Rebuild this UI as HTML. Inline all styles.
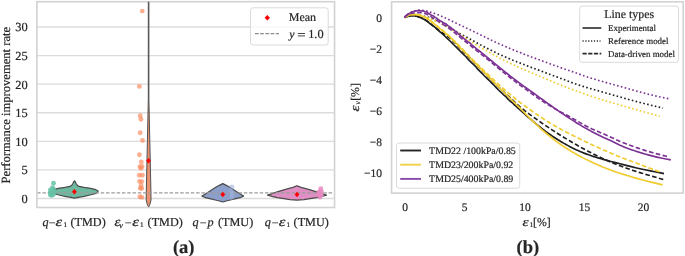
<!DOCTYPE html>
<html><head><meta charset="utf-8"><style>
html,body{margin:0;padding:0;background:#fff;}
svg{display:block;will-change:transform;}
text{font-family:"Liberation Serif",serif;fill:#262626;text-rendering:geometricPrecision;stroke:#262626;stroke-width:0.2px;}
</style></head><body>
<svg width="685" height="256" viewBox="0 0 685 256">
<defs><clipPath id="ca"><rect x="36.5" y="1.5" width="298.3" height="205.7"/></clipPath><clipPath id="cb"><rect x="391.5" y="1.5" width="292.2" height="191"/></clipPath></defs>
<rect width="685" height="256" fill="#fff"/>
<!-- ===== LEFT CHART ===== -->
<line x1="36.5" x2="334.8" y1="198.50" y2="198.50" stroke="#dcdcdc" stroke-width="1.3"/><line x1="36.5" x2="334.8" y1="169.91" y2="169.91" stroke="#dcdcdc" stroke-width="1.3"/><line x1="36.5" x2="334.8" y1="141.33" y2="141.33" stroke="#dcdcdc" stroke-width="1.3"/><line x1="36.5" x2="334.8" y1="112.75" y2="112.75" stroke="#dcdcdc" stroke-width="1.3"/><line x1="36.5" x2="334.8" y1="84.16" y2="84.16" stroke="#dcdcdc" stroke-width="1.3"/><line x1="36.5" x2="334.8" y1="55.58" y2="55.58" stroke="#dcdcdc" stroke-width="1.3"/><line x1="36.5" x2="334.8" y1="26.99" y2="26.99" stroke="#dcdcdc" stroke-width="1.3"/>
<rect x="36.9" y="1.7" width="297.65" height="205.8" fill="none" stroke="#d2d2d2" stroke-width="1.6"/>
<g font-size="12.4"><text x="27.7" y="202.90" text-anchor="end">0</text><text x="27.7" y="174.31" text-anchor="end">5</text><text x="27.7" y="145.73" text-anchor="end">10</text><text x="27.7" y="117.15" text-anchor="end">15</text><text x="27.7" y="88.56" text-anchor="end">20</text><text x="27.7" y="59.98" text-anchor="end">25</text><text x="27.7" y="31.39" text-anchor="end">30</text></g>
<text transform="translate(10.2,183.4) rotate(-90)" font-size="12.58">Performance improvement rate</text>
<g stroke="#4a4a4a" stroke-width="1.2" stroke-linejoin="round" clip-path="url(#ca)">
<path d="M74.50,180.80 L73.60,181.80 L73.10,183.20 L72.00,185.00 L70.10,186.40 L64.90,187.40 L58.40,188.30 L53.20,189.70 L50.90,191.10 L51.50,192.30 L53.20,193.50 L59.00,195.00 L64.90,196.30 L69.50,197.10 L72.00,197.70 L74.50,198.20 L74.50,198.20 L77.00,197.70 L79.50,197.10 L84.10,196.30 L90.00,195.00 L95.80,193.50 L97.50,192.30 L98.10,191.10 L95.80,189.70 L90.60,188.30 L84.10,187.40 L78.90,186.40 L77.00,185.00 L75.90,183.20 L75.40,181.80 L74.50,180.80Z" fill="#6db99f"/>
<path d="M148.30,1.80 L148.30,10.00 L148.30,20.00 L148.30,30.00 L148.30,40.00 L148.30,50.00 L148.30,60.00 L148.30,70.00 L148.30,80.00 L148.30,90.00 L148.30,100.00 L148.08,110.00 L147.86,120.00 L147.64,130.00 L147.42,140.00 L147.20,150.00 L146.98,160.00 L146.76,170.00 L146.54,180.00 L146.32,190.00 L146.20,200.00 L146.90,203.00 L147.70,205.50 L148.60,207.00 L148.60,207.00 L149.50,205.50 L150.30,203.00 L151.00,200.00 L150.88,190.00 L150.66,180.00 L150.44,170.00 L150.22,160.00 L150.00,150.00 L149.78,140.00 L149.56,130.00 L149.34,120.00 L149.12,110.00 L148.90,100.00 L148.90,90.00 L148.90,80.00 L148.90,70.00 L148.90,60.00 L148.90,50.00 L148.90,40.00 L148.90,30.00 L148.90,20.00 L148.90,10.00 L148.90,1.80Z" fill="#eb9270" stroke="#525252" stroke-width="1.0"/>
<path d="M222.80,183.60 L220.80,184.60 L217.50,186.30 L213.80,188.50 L209.70,191.20 L205.80,193.70 L202.00,196.10 L204.60,197.30 L209.70,198.60 L215.30,200.00 L219.40,201.00 L222.80,202.00 L222.80,202.00 L226.20,201.00 L230.30,200.00 L235.90,198.60 L241.00,197.30 L243.60,196.10 L239.80,193.70 L235.90,191.20 L231.80,188.50 L228.10,186.30 L224.80,184.60 L222.80,183.60Z" fill="#8c9fcb"/>
<path d="M297.00,185.70 L294.80,186.60 L292.00,187.70 L285.50,189.40 L277.30,191.80 L272.00,193.60 L267.50,195.10 L272.00,196.40 L277.30,197.60 L284.00,198.70 L290.00,199.60 L297.00,200.20 L297.00,200.20 L304.00,199.60 L310.00,198.70 L316.70,197.60 L322.00,196.40 L326.50,195.10 L322.00,193.60 L316.70,191.80 L308.50,189.40 L302.00,187.70 L299.20,186.60 L297.00,185.70Z" fill="#e08fc4"/>
</g>
<line x1="37.7" x2="333.8" y1="192.9" y2="192.9" stroke="#9c9c9c" stroke-width="1.4" stroke-dasharray="3.5 1.8" stroke-dashoffset="0.6"/>
<circle cx="53.5" cy="183.3" r="2.45" fill="#66c2a5" fill-opacity="0.85"/><circle cx="50.4" cy="190.0" r="2.45" fill="#66c2a5" fill-opacity="0.85"/><circle cx="53.5" cy="189.3" r="2.45" fill="#66c2a5" fill-opacity="0.85"/><circle cx="50.3" cy="192.6" r="2.45" fill="#66c2a5" fill-opacity="0.85"/><circle cx="53.5" cy="192.0" r="2.45" fill="#66c2a5" fill-opacity="0.85"/><circle cx="50.4" cy="195.0" r="2.45" fill="#66c2a5" fill-opacity="0.85"/><circle cx="53.4" cy="194.6" r="2.45" fill="#66c2a5" fill-opacity="0.85"/><circle cx="51.9" cy="195.3" r="2.45" fill="#66c2a5" fill-opacity="0.85"/><circle cx="51.9" cy="191.2" r="2.45" fill="#66c2a5" fill-opacity="0.85"/><circle cx="52.5" cy="187.6" r="2.45" fill="#66c2a5" fill-opacity="0.85"/><circle cx="142.3" cy="11.1" r="2.45" fill="#fc8d62" fill-opacity="0.7"/><circle cx="139.4" cy="86.4" r="2.45" fill="#fc8d62" fill-opacity="0.7"/><circle cx="140.2" cy="115.8" r="2.45" fill="#fc8d62" fill-opacity="0.7"/><circle cx="140.9" cy="119.3" r="2.45" fill="#fc8d62" fill-opacity="0.7"/><circle cx="140.2" cy="132.7" r="2.45" fill="#fc8d62" fill-opacity="0.7"/><circle cx="142.5" cy="140.5" r="2.45" fill="#fc8d62" fill-opacity="0.7"/><circle cx="139.4" cy="154.7" r="2.45" fill="#fc8d62" fill-opacity="0.7"/><circle cx="141.3" cy="161.9" r="2.45" fill="#fc8d62" fill-opacity="0.7"/><circle cx="139.9" cy="166.7" r="2.45" fill="#fc8d62" fill-opacity="0.7"/><circle cx="142.1" cy="166.5" r="2.45" fill="#fc8d62" fill-opacity="0.7"/><circle cx="141.0" cy="168.4" r="2.45" fill="#fc8d62" fill-opacity="0.7"/><circle cx="139.3" cy="175.3" r="2.45" fill="#fc8d62" fill-opacity="0.7"/><circle cx="142.3" cy="175.3" r="2.45" fill="#fc8d62" fill-opacity="0.7"/><circle cx="139.6" cy="181.4" r="2.45" fill="#fc8d62" fill-opacity="0.7"/><circle cx="141.8" cy="181.6" r="2.45" fill="#fc8d62" fill-opacity="0.7"/><circle cx="141.1" cy="185.4" r="2.45" fill="#fc8d62" fill-opacity="0.7"/><circle cx="140.3" cy="188.3" r="2.45" fill="#fc8d62" fill-opacity="0.7"/><circle cx="141.7" cy="188.4" r="2.45" fill="#fc8d62" fill-opacity="0.7"/><circle cx="139.9" cy="196.8" r="2.45" fill="#fc8d62" fill-opacity="0.7"/><circle cx="141.9" cy="197.4" r="2.45" fill="#fc8d62" fill-opacity="0.7"/><circle cx="231.9" cy="186.9" r="2.45" fill="#9fb0da" fill-opacity="0.6"/><circle cx="231.4" cy="191.5" r="2.45" fill="#9fb0da" fill-opacity="0.6"/><circle cx="232.2" cy="194.5" r="2.45" fill="#9fb0da" fill-opacity="0.6"/><circle cx="231.6" cy="197.5" r="2.45" fill="#9fb0da" fill-opacity="0.6"/><circle cx="320.8" cy="188.8" r="2.45" fill="#e78ac3" fill-opacity="0.85"/><circle cx="318.9" cy="191.9" r="2.45" fill="#e78ac3" fill-opacity="0.85"/><circle cx="321.3" cy="191.5" r="2.45" fill="#e78ac3" fill-opacity="0.85"/><circle cx="318.8" cy="194.6" r="2.45" fill="#e78ac3" fill-opacity="0.85"/><circle cx="321.2" cy="195.2" r="2.45" fill="#e78ac3" fill-opacity="0.85"/><circle cx="319.9" cy="197.1" r="2.45" fill="#e78ac3" fill-opacity="0.85"/><circle cx="320.2" cy="193.3" r="2.45" fill="#e78ac3" fill-opacity="0.85"/>
<path d="M74.4,188.95 L76.80000000000001,191.7 L74.4,194.45 L72.0,191.7Z" fill="#ff0000"/><path d="M148.5,158.05 L150.9,160.8 L148.5,163.55 L146.1,160.8Z" fill="#ff0000"/><path d="M222.8,191.65 L225.20000000000002,194.4 L222.8,197.15 L220.4,194.4Z" fill="#ff0000"/><path d="M297.0,191.75 L299.4,194.5 L297.0,197.25 L294.6,194.5Z" fill="#ff0000"/>
<!-- legend -->
<rect x="250.5" y="7.8" width="77.7" height="37.2" rx="2.5" fill="#fff" fill-opacity="0.8" stroke="#d6d6d6" stroke-width="0.9"/>
<path d="M267.3,15.05 L270.0,17.8 L267.3,20.55 L264.6,17.8Z" fill="#ff0000"/>
<line x1="255" x2="279" y1="33.6" y2="33.6" stroke="#8c8c8c" stroke-width="1.3" stroke-dasharray="3.7 1.5"/>
<g font-size="12"><text x="288.8" y="21.2">Mean</text>
<text x="289.2" y="37.8" font-style="italic">y</text><line x1="297.9" x2="305.0" y1="33.5" y2="33.5" stroke="#262626" stroke-width="0.85"/><line x1="297.9" x2="305.0" y1="35.9" y2="35.9" stroke="#262626" stroke-width="0.85"/><text x="308.2" y="37.8" font-size="12.3">1.0</text></g>
<g font-size="12.2">
<text transform="translate(55.6,226.3) scale(1.38,1.08)" font-size="12.2" font-style="italic">ε</text><text x="42.4" y="226.3" font-style="italic">q</text><text x="48.7" y="226.8">−</text><text x="63.6" y="227.1" font-size="7.2">1</text><text x="70.5" y="226.3">(TMD)</text>
<text transform="translate(114.4,226.3) scale(1.2,1.08)" font-size="12.2" font-style="italic">ε</text><text x="119.3" y="227.9" font-size="8.4" font-style="italic">v</text><text x="124.8" y="226.8">−</text><text transform="translate(132.3,226.3) scale(1.38,1.08)" font-size="12.2" font-style="italic">ε</text><text x="140.1" y="227.1" font-size="7.2">1</text><text x="147.6" y="226.3">(TMD)</text>
<text x="192.5" y="226.3" font-style="italic">q</text><text x="199.7" y="226.8">−</text><text x="207.6" y="226.3" font-style="italic">p</text><text x="218.0" y="226.3">(TMU)</text>
<text transform="translate(278.7,226.3) scale(1.38,1.08)" font-size="12.2" font-style="italic">ε</text><text x="264.7" y="226.3" font-style="italic">q</text><text x="271.7" y="226.8">−</text><text x="286.5" y="227.1" font-size="7.2">1</text><text x="293.6" y="226.3">(TMU)</text>
</g>
<text x="172.9" y="252.6" font-size="18.5" font-weight="bold" fill="#111">(a)</text>
<!-- ===== RIGHT CHART ===== -->
<rect x="391.6" y="1.8" width="291.6" height="191.3" fill="none" stroke="#d2d2d2" stroke-width="1.6"/>
<g font-size="11.5" text-anchor="end">
<text x="382" y="21.9">0</text>
<text x="382" y="53.0">−2</text>
<text x="382" y="84.1">−4</text>
<text x="382" y="115.2">−6</text>
<text x="382" y="146.3">−8</text>
<text x="382" y="177.4">−10</text>
</g>
<g font-size="11.5" text-anchor="middle">
<text x="405" y="211">0</text>
<text x="464.7" y="211">5</text>
<text x="524.9" y="211">10</text>
<text x="584.4" y="211">15</text>
<text x="643.5" y="211">20</text>
</g>
<text transform="translate(522.4,225.9) scale(1.3,1.08)" font-size="11.8" font-style="italic">ε</text><text x="529.8" y="227.2" font-size="7.2">1</text><text x="533.1" y="225.9" font-size="11.8">[%]</text>
<g transform="translate(358.7,111.4) rotate(-90)"><text transform="translate(0,0) scale(1.3,1.08)" font-size="11.8" font-style="italic">ε</text><text x="6.8" y="1.2" font-size="7.4" font-style="italic">v</text><text x="10.6" y="0" font-size="11.8">[%]</text></g>
<text x="516.5" y="252.6" font-size="18.5" font-weight="bold" fill="#111">(b)</text>
<g stroke-linecap="butt" clip-path="url(#cb)">
<path d="M404.80,17.50 L405.22,17.34 L405.81,17.11 L406.51,16.85 L407.26,16.60 L408.00,16.40 L408.75,16.25 L409.54,16.11 L410.36,15.93 L411.19,15.86 L412.00,15.63 L412.80,15.91 L413.60,15.71 L414.40,15.78 L415.20,16.06 L416.00,16.10 L416.77,16.30 L417.50,16.61 L418.26,16.84 L419.07,17.10 L420.00,17.45 L421.07,17.84 L422.26,18.42 L423.50,19.12 L424.77,19.56 L426.00,20.60 L427.17,21.19 L428.30,22.23 L429.46,23.08 L430.67,23.99 L432.00,25.19 L433.44,26.16 L434.96,27.23 L436.56,28.84 L438.24,30.31 L440.00,31.78 L441.87,33.49 L443.86,35.24 L445.90,37.20 L447.97,39.15 L450.00,40.99 L452.00,42.93 L454.00,44.98 L456.00,46.87 L458.00,48.87 L460.00,50.91 L462.00,52.86 L464.00,54.91 L466.00,56.74 L468.00,59.13 L470.00,61.19 L472.00,63.20 L474.00,64.84 L476.00,67.04 L478.00,69.43 L480.00,71.32 L482.00,73.30 L484.00,75.48 L486.00,77.47 L488.00,79.35 L490.00,81.14 L492.00,83.33 L494.00,85.21 L496.00,87.34 L498.00,89.50 L500.00,91.36 L502.00,93.24 L504.00,95.18 L506.00,96.76 L508.00,99.10 L510.00,101.00 L512.00,102.46 L514.00,104.50 L516.00,106.15 L518.00,108.11 L520.00,109.86 L522.00,111.67 L524.00,113.50 L526.00,115.27 L528.00,117.06 L530.00,118.70 L532.00,120.48 L534.00,122.07 L536.00,123.79 L538.00,125.38 L540.00,126.99 L542.00,128.56 L544.00,130.10 L546.00,131.61 L548.00,133.08 L550.00,134.50 L552.00,135.88 L554.00,137.21 L556.00,138.51 L558.00,139.77 L560.00,141.00 L562.00,142.21 L564.00,143.38 L566.00,144.52 L568.00,145.63 L570.00,146.70 L572.00,147.73 L574.00,148.73 L576.00,149.70 L578.00,150.62 L580.00,151.50 L582.00,152.33 L584.00,153.12 L586.00,153.87 L588.00,154.59 L590.00,155.30 L592.00,155.99 L594.00,156.65 L596.00,157.28 L598.00,157.90 L600.00,158.50 L602.00,159.07 L604.00,159.62 L606.00,160.15 L608.00,160.67 L610.00,161.20 L611.84,161.69 L613.52,162.14 L615.28,162.60 L617.36,163.13 L620.00,163.80 L623.30,164.63 L627.09,165.59 L631.23,166.63 L635.58,167.68 L640.00,168.70 L644.93,169.76 L650.46,170.90 L655.94,171.99 L660.67,172.93 L664.00,173.60" fill="none" stroke="#1f1f1f" stroke-width="1.65" stroke-linejoin="round"/>
<path d="M404.80,17.50 L405.22,17.22 L405.81,16.82 L406.51,16.37 L407.26,15.94 L408.00,15.60 L408.72,15.35 L409.45,15.14 L410.22,14.98 L411.06,14.87 L412.00,14.80 L413.07,14.79 L414.26,14.84 L415.50,14.93 L416.77,15.06 L418.00,15.20 L419.20,15.37 L420.40,15.57 L421.60,15.79 L422.80,16.04 L424.00,16.30 L425.14,16.54 L426.21,16.76 L427.31,17.01 L428.54,17.37 L430.00,17.90 L431.74,18.63 L433.71,19.52 L435.81,20.52 L437.94,21.57 L440.00,22.60 L442.00,23.63 L444.00,24.70 L446.00,25.79 L448.00,26.90 L450.00,28.00 L452.00,29.11 L454.00,30.24 L456.00,31.36 L458.00,32.49 L460.00,33.60 L462.00,34.69 L464.00,35.76 L466.00,36.84 L468.00,37.91 L470.00,39.00 L472.00,40.11 L474.00,41.24 L476.00,42.38 L478.00,43.50 L480.00,44.60 L482.00,45.67 L484.00,46.73 L486.00,47.77 L488.00,48.79 L490.00,49.80 L492.00,50.79 L494.00,51.77 L496.00,52.73 L498.00,53.67 L500.00,54.60 L502.00,55.51 L504.00,56.41 L506.00,57.29 L508.00,58.15 L510.00,59.00 L512.00,59.83 L514.00,60.63 L516.00,61.43 L518.00,62.21 L520.00,63.00 L522.00,63.79 L524.00,64.58 L526.00,65.36 L528.00,66.13 L530.00,66.90 L532.00,67.65 L534.00,68.39 L536.00,69.12 L538.00,69.86 L540.00,70.60 L542.00,71.36 L544.00,72.12 L546.00,72.88 L548.00,73.64 L550.00,74.40 L551.84,75.09 L553.52,75.71 L555.28,76.37 L557.36,77.13 L560.00,78.10 L563.36,79.35 L567.28,80.83 L571.52,82.41 L575.84,83.97 L580.00,85.40 L584.00,86.67 L588.00,87.87 L592.00,89.02 L596.00,90.16 L600.00,91.30 L604.00,92.46 L608.00,93.60 L612.00,94.74 L616.00,95.88 L620.00,97.00 L623.95,98.11 L627.86,99.21 L631.78,100.30 L635.81,101.40 L640.00,102.50 L644.78,103.70 L650.09,105.00 L655.31,106.26 L659.82,107.34 L663.00,108.10" fill="none" stroke="#1f1f1f" stroke-dasharray="1.6 2.35" stroke-width="1.65" stroke-linejoin="round"/>
<path d="M404.80,17.50 L405.22,17.28 L405.81,16.96 L406.51,16.61 L407.26,16.27 L408.00,16.00 L408.75,15.81 L409.54,15.65 L410.36,15.52 L411.19,15.44 L412.00,15.40 L412.80,15.40 L413.60,15.45 L414.40,15.53 L415.20,15.65 L416.00,15.80 L416.77,15.96 L417.50,16.12 L418.26,16.33 L419.07,16.61 L420.00,17.00 L421.07,17.50 L422.26,18.10 L423.50,18.78 L424.77,19.52 L426.00,20.30 L427.17,21.13 L428.30,22.02 L429.46,22.96 L430.67,23.95 L432.00,25.00 L433.44,26.10 L434.96,27.25 L436.56,28.45 L438.24,29.70 L440.00,31.00 L441.87,32.32 L443.86,33.67 L445.90,35.08 L447.97,36.57 L450.00,38.20 L452.00,39.99 L454.00,41.91 L456.00,43.93 L458.00,45.97 L460.00,48.00 L462.00,50.01 L464.00,52.05 L466.00,54.10 L468.00,56.15 L470.00,58.20 L472.00,60.24 L474.00,62.28 L476.00,64.32 L478.00,66.36 L480.00,68.40 L482.00,70.45 L484.00,72.50 L486.00,74.55 L488.00,76.59 L490.00,78.60 L492.00,80.60 L494.00,82.58 L496.00,84.55 L498.00,86.49 L500.00,88.40 L502.00,90.26 L504.00,92.08 L506.00,93.88 L508.00,95.68 L510.00,97.50 L512.00,99.37 L514.00,101.28 L516.00,103.18 L518.00,105.03 L520.00,106.80 L522.00,108.47 L524.00,110.06 L526.00,111.60 L528.00,113.11 L530.00,114.60 L532.00,116.07 L534.00,117.50 L536.00,118.92 L538.00,120.31 L540.00,121.70 L542.00,123.08 L544.00,124.46 L546.00,125.82 L548.00,127.16 L550.00,128.50 L552.00,129.83 L554.00,131.15 L556.00,132.45 L558.00,133.74 L560.00,135.00 L562.00,136.24 L564.00,137.45 L566.00,138.64 L568.00,139.82 L570.00,141.00 L572.00,142.18 L574.00,143.35 L576.00,144.52 L578.00,145.67 L580.00,146.80 L582.00,147.91 L584.00,149.01 L586.00,150.09 L588.00,151.15 L590.00,152.20 L592.00,153.23 L594.00,154.25 L596.00,155.25 L598.00,156.23 L600.00,157.20 L602.00,158.16 L604.00,159.10 L606.00,160.02 L608.00,160.92 L610.00,161.80 L612.00,162.64 L614.00,163.46 L616.00,164.26 L618.00,165.04 L620.00,165.80 L622.00,166.55 L624.00,167.29 L626.00,168.01 L628.00,168.71 L630.00,169.40 L632.00,170.07 L634.00,170.72 L636.00,171.35 L638.00,171.98 L640.00,172.60 L641.95,173.20 L643.84,173.77 L645.76,174.34 L647.78,174.94 L650.00,175.60 L652.68,176.40 L655.76,177.32 L658.84,178.24 L661.52,179.04 L663.40,179.60" fill="none" stroke="#1f1f1f" stroke-width="1.65" stroke-dasharray="4.6 2.4" stroke-linejoin="round"/>
<path d="M404.80,17.50 L405.21,17.23 L405.76,16.83 L406.44,16.39 L407.19,15.95 L408.00,15.60 L408.88,15.32 L409.87,15.06 L410.91,14.76 L411.97,14.64 L413.00,14.41 L413.98,14.58 L414.95,14.59 L415.93,14.64 L416.94,14.75 L418.00,15.05 L419.14,15.03 L420.33,15.68 L421.55,16.08 L422.78,16.40 L424.00,16.98 L425.14,17.48 L426.21,17.73 L427.31,18.82 L428.54,19.63 L430.00,20.57 L431.74,22.00 L433.71,23.57 L435.81,25.26 L437.94,26.95 L440.00,28.79 L442.00,30.45 L444.00,31.84 L446.00,33.78 L448.00,35.46 L450.00,37.12 L452.00,39.29 L454.00,41.30 L456.00,43.06 L458.00,45.50 L460.00,47.56 L462.00,49.60 L464.00,51.54 L466.00,53.78 L468.00,55.76 L470.00,57.99 L472.00,59.88 L474.00,62.11 L476.00,63.77 L478.00,66.32 L480.00,68.18 L482.00,70.03 L484.00,72.42 L486.00,73.98 L488.00,76.38 L490.00,78.22 L492.00,80.32 L494.00,82.38 L496.00,84.36 L498.00,86.41 L500.00,88.26 L502.00,90.31 L504.00,92.08 L506.00,94.33 L508.00,96.22 L510.00,98.28 L512.00,100.26 L514.00,102.14 L516.00,104.24 L518.00,106.15 L520.00,108.17 L522.00,110.25 L524.00,112.27 L526.00,114.44 L528.00,116.42 L530.00,118.47 L532.00,120.46 L534.00,122.34 L536.00,124.25 L538.00,125.93 L540.00,127.98 L542.00,129.76 L544.00,131.48 L546.00,133.15 L548.00,134.79 L550.00,136.40 L552.00,137.99 L554.00,139.55 L556.00,141.08 L558.00,142.56 L560.00,144.00 L562.00,145.38 L564.00,146.71 L566.00,148.00 L568.00,149.26 L570.00,150.50 L572.00,151.72 L574.00,152.91 L576.00,154.07 L578.00,155.20 L580.00,156.30 L582.00,157.36 L584.00,158.38 L586.00,159.37 L588.00,160.34 L590.00,161.30 L592.00,162.24 L594.00,163.16 L596.00,164.06 L598.00,164.94 L600.00,165.80 L602.00,166.64 L604.00,167.46 L606.00,168.26 L608.00,169.04 L610.00,169.80 L611.84,170.49 L613.52,171.12 L615.28,171.74 L617.36,172.45 L620.00,173.30 L623.32,174.35 L627.16,175.54 L631.33,176.81 L635.67,178.09 L640.00,179.30 L644.72,180.54 L649.94,181.84 L655.06,183.08 L659.48,184.14 L662.60,184.90" fill="none" stroke="#f0cc2e" stroke-width="1.65" stroke-linejoin="round"/>
<path d="M404.80,17.50 L405.21,17.16 L405.76,16.68 L406.44,16.13 L407.19,15.61 L408.00,15.20 L408.85,14.90 L409.77,14.65 L410.77,14.46 L411.84,14.34 L413.00,14.30 L414.22,14.34 L415.51,14.45 L416.89,14.64 L418.38,14.92 L420.00,15.30 L421.83,15.81 L423.86,16.44 L425.96,17.14 L428.05,17.88 L430.00,18.60 L431.77,19.29 L433.44,19.96 L435.06,20.67 L436.73,21.44 L438.50,22.30 L440.38,23.26 L442.32,24.31 L444.32,25.42 L446.38,26.59 L448.50,27.80 L450.73,29.08 L453.06,30.45 L455.44,31.85 L457.77,33.24 L460.00,34.60 L462.10,35.91 L464.11,37.20 L466.07,38.48 L468.02,39.75 L470.00,41.00 L472.00,42.25 L474.00,43.49 L476.00,44.71 L478.00,45.92 L480.00,47.10 L482.00,48.25 L484.00,49.38 L486.00,50.49 L488.00,51.59 L490.00,52.70 L492.00,53.81 L494.00,54.93 L496.00,56.04 L498.00,57.13 L500.00,58.20 L502.00,59.24 L504.00,60.26 L506.00,61.25 L508.00,62.23 L510.00,63.20 L512.00,64.15 L514.00,65.08 L516.00,65.99 L518.00,66.90 L520.00,67.80 L522.00,68.70 L524.00,69.58 L526.00,70.46 L528.00,71.34 L530.00,72.20 L532.00,73.05 L534.00,73.89 L536.00,74.73 L538.00,75.56 L540.00,76.40 L542.00,77.24 L544.00,78.08 L546.00,78.92 L548.00,79.76 L550.00,80.60 L551.84,81.39 L553.52,82.12 L555.28,82.88 L557.36,83.75 L560.00,84.80 L563.36,86.10 L567.28,87.60 L571.52,89.19 L575.84,90.79 L580.00,92.30 L584.00,93.72 L588.00,95.11 L592.00,96.48 L596.00,97.81 L600.00,99.10 L604.00,100.34 L608.00,101.53 L612.00,102.70 L616.00,103.85 L620.00,105.00 L624.00,106.15 L628.01,107.30 L632.01,108.44 L636.01,109.57 L640.00,110.70 L644.29,111.92 L648.88,113.22 L653.32,114.47 L657.11,115.54 L659.80,116.30" fill="none" stroke="#f0cc2e" stroke-dasharray="1.6 2.35" stroke-width="1.65" stroke-linejoin="round"/>
<path d="M404.80,17.50 L405.21,17.20 L405.76,16.76 L406.44,16.26 L407.19,15.78 L408.00,15.40 L408.88,15.11 L409.87,14.85 L410.91,14.64 L411.97,14.49 L413.00,14.40 L413.98,14.38 L414.95,14.42 L415.93,14.53 L416.94,14.69 L418.00,14.90 L419.14,15.16 L420.33,15.48 L421.55,15.86 L422.78,16.30 L424.00,16.80 L425.14,17.33 L426.21,17.87 L427.31,18.51 L428.54,19.29 L430.00,20.30 L431.74,21.59 L433.71,23.12 L435.81,24.79 L437.94,26.52 L440.00,28.20 L442.00,29.82 L444.00,31.45 L446.00,33.10 L448.00,34.81 L450.00,36.60 L452.00,38.49 L454.00,40.48 L456.00,42.51 L458.00,44.56 L460.00,46.60 L462.00,48.63 L464.00,50.68 L466.00,52.72 L468.00,54.77 L470.00,56.80 L472.00,58.82 L474.00,60.84 L476.00,62.85 L478.00,64.84 L480.00,66.80 L482.00,68.72 L484.00,70.60 L486.00,72.47 L488.00,74.33 L490.00,76.20 L492.00,78.09 L494.00,80.00 L496.00,81.90 L498.00,83.77 L500.00,85.60 L502.00,87.38 L504.00,89.12 L506.00,90.83 L508.00,92.52 L510.00,94.20 L512.00,95.86 L514.00,97.51 L516.00,99.14 L518.00,100.74 L520.00,102.30 L522.00,103.82 L524.00,105.29 L526.00,106.74 L528.00,108.17 L530.00,109.60 L532.00,111.03 L534.00,112.45 L536.00,113.86 L538.00,115.24 L540.00,116.60 L542.00,117.93 L544.00,119.23 L546.00,120.51 L548.00,121.77 L550.00,123.00 L552.00,124.21 L554.00,125.39 L556.00,126.55 L558.00,127.69 L560.00,128.80 L562.00,129.88 L564.00,130.93 L566.00,131.96 L568.00,132.98 L570.00,134.00 L572.00,135.02 L574.00,136.02 L576.00,137.02 L578.00,138.02 L580.00,139.00 L582.00,139.98 L584.00,140.94 L586.00,141.90 L588.00,142.86 L590.00,143.80 L592.00,144.74 L594.00,145.66 L596.00,146.58 L598.00,147.50 L600.00,148.40 L602.00,149.30 L604.00,150.18 L606.00,151.06 L608.00,151.94 L610.00,152.80 L612.00,153.66 L614.00,154.51 L616.00,155.36 L618.00,156.19 L620.00,157.00 L622.00,157.79 L624.00,158.56 L626.00,159.31 L628.00,160.06 L630.00,160.80 L632.00,161.53 L634.00,162.24 L636.00,162.96 L638.00,163.67 L640.00,164.40 L642.00,165.15 L644.00,165.91 L646.00,166.67 L648.00,167.44 L650.00,168.20 L652.16,169.02 L654.48,169.90 L656.72,170.75 L658.64,171.48 L660.00,172.00" fill="none" stroke="#f0cc2e" stroke-width="1.65" stroke-dasharray="4.6 2.4" stroke-linejoin="round"/>
<path d="M404.40,17.30 L404.73,16.99 L405.19,16.55 L405.73,16.04 L406.35,15.50 L407.00,15.00 L407.71,14.51 L408.50,13.99 L409.33,13.31 L410.18,12.90 L411.00,12.33 L411.78,12.23 L412.55,11.70 L413.33,11.60 L414.14,11.27 L415.00,10.88 L415.94,11.04 L416.93,10.86 L417.95,10.68 L418.98,10.19 L420.00,10.83 L421.00,10.78 L422.00,11.04 L423.00,10.99 L424.00,11.18 L425.00,11.71 L425.96,11.96 L426.87,11.94 L427.80,12.98 L428.82,13.38 L430.00,14.27 L431.47,15.19 L433.19,15.85 L434.95,17.12 L436.55,18.15 L437.80,19.17 L438.47,19.62 L438.71,19.76 L438.83,19.90 L439.15,20.08 L440.00,20.68 L441.50,21.51 L443.44,22.83 L445.63,23.75 L447.88,25.65 L450.00,26.85 L452.00,28.71 L454.00,29.96 L456.00,32.04 L458.00,33.38 L460.00,35.42 L462.00,36.93 L464.00,38.63 L466.00,40.09 L468.00,41.85 L470.00,43.03 L472.00,45.10 L474.00,46.70 L476.00,48.29 L478.00,49.89 L480.00,51.50 L482.00,53.11 L484.00,54.73 L486.00,56.35 L488.00,57.97 L490.00,59.60 L492.00,61.24 L494.00,62.88 L496.00,64.53 L498.00,66.17 L500.00,67.80 L502.00,69.42 L504.00,71.03 L506.00,72.64 L508.00,74.23 L510.00,75.80 L512.00,77.35 L514.00,78.89 L516.00,80.41 L518.00,81.91 L520.00,83.40 L522.00,84.87 L524.00,86.31 L526.00,87.74 L528.00,89.17 L530.00,90.60 L532.00,92.04 L534.00,93.48 L536.00,94.92 L538.00,96.36 L540.00,97.80 L542.00,99.24 L544.00,100.69 L546.00,102.13 L548.00,103.57 L550.00,105.00 L552.00,106.42 L554.00,107.83 L556.00,109.24 L558.00,110.63 L560.00,112.00 L562.00,113.35 L564.00,114.68 L566.00,116.00 L568.00,117.31 L570.00,118.60 L572.00,119.89 L574.00,121.17 L576.00,122.44 L578.00,123.68 L580.00,124.90 L582.00,126.09 L584.00,127.25 L586.00,128.38 L588.00,129.50 L590.00,130.60 L592.00,131.68 L594.00,132.75 L596.00,133.79 L598.00,134.81 L600.00,135.80 L602.00,136.74 L604.00,137.63 L606.00,138.50 L608.00,139.39 L610.00,140.30 L612.00,141.27 L614.00,142.27 L616.00,143.29 L618.00,144.27 L620.00,145.20 L622.00,146.07 L624.00,146.90 L626.00,147.69 L628.00,148.46 L630.00,149.20 L632.00,149.91 L634.00,150.59 L636.00,151.24 L638.00,151.88 L640.00,152.50 L642.00,153.11 L644.00,153.71 L646.00,154.30 L648.00,154.86 L650.00,155.40 L651.99,155.92 L653.96,156.41 L655.94,156.89 L657.95,157.35 L660.00,157.80 L662.28,158.27 L664.78,158.76 L667.22,159.23 L669.32,159.62 L670.80,159.90" fill="none" stroke="#7b3294" stroke-width="1.65" stroke-linejoin="round"/>
<path d="M404.40,17.30 L404.87,16.87 L405.51,16.26 L406.29,15.55 L407.13,14.84 L408.00,14.20 L408.91,13.63 L409.90,13.06 L410.93,12.52 L411.98,12.02 L413.00,11.60 L413.98,11.25 L414.95,10.95 L415.93,10.71 L416.94,10.53 L418.00,10.40 L419.11,10.32 L420.26,10.30 L421.44,10.34 L422.69,10.44 L424.00,10.60 L425.39,10.84 L426.84,11.14 L428.36,11.50 L429.91,11.92 L431.50,12.40 L433.11,12.93 L434.76,13.51 L436.44,14.15 L438.19,14.85 L440.00,15.60 L441.90,16.43 L443.89,17.33 L445.93,18.28 L447.98,19.24 L450.00,20.20 L452.00,21.15 L454.00,22.11 L456.00,23.07 L458.00,24.04 L460.00,25.00 L462.00,25.96 L464.00,26.92 L466.00,27.88 L468.00,28.84 L470.00,29.80 L472.00,30.76 L474.00,31.72 L476.00,32.67 L478.00,33.63 L480.00,34.60 L482.00,35.58 L484.00,36.56 L486.00,37.55 L488.00,38.53 L490.00,39.50 L492.00,40.46 L494.00,41.41 L496.00,42.36 L498.00,43.29 L500.00,44.20 L502.00,45.09 L504.00,45.96 L506.00,46.81 L508.00,47.66 L510.00,48.50 L512.00,49.34 L514.00,50.17 L516.00,50.99 L518.00,51.80 L520.00,52.60 L522.00,53.38 L524.00,54.15 L526.00,54.90 L528.00,55.65 L530.00,56.40 L532.00,57.15 L534.00,57.89 L536.00,58.62 L538.00,59.36 L540.00,60.10 L541.97,60.83 L543.90,61.55 L545.86,62.28 L547.87,63.02 L550.00,63.80 L552.26,64.62 L554.61,65.47 L557.03,66.34 L559.50,67.22 L562.00,68.10 L564.50,68.98 L567.03,69.85 L569.61,70.74 L572.26,71.65 L575.00,72.60 L577.83,73.60 L580.73,74.63 L583.71,75.69 L586.80,76.75 L590.00,77.80 L593.45,78.87 L597.14,79.97 L600.88,81.05 L604.46,82.08 L607.70,83.00 L610.38,83.76 L612.64,84.38 L614.78,84.97 L617.13,85.61 L620.00,86.40 L623.59,87.41 L627.69,88.57 L631.99,89.78 L636.20,90.96 L640.00,92.00 L643.33,92.89 L646.40,93.69 L649.30,94.42 L652.13,95.12 L655.00,95.80 L658.12,96.50 L661.42,97.20 L664.58,97.85 L667.28,98.40 L669.20,98.80" fill="none" stroke="#7b3294" stroke-dasharray="1.6 2.35" stroke-width="1.65" stroke-linejoin="round"/>
<path d="M404.40,17.30 L404.73,16.98 L405.19,16.51 L405.73,15.98 L406.35,15.45 L407.00,15.00 L407.71,14.62 L408.50,14.26 L409.33,13.93 L410.18,13.64 L411.00,13.40 L411.78,13.23 L412.55,13.11 L413.33,13.03 L414.14,12.97 L415.00,12.90 L415.94,12.81 L416.93,12.71 L417.95,12.62 L418.98,12.58 L420.00,12.60 L421.00,12.68 L422.00,12.80 L423.00,12.97 L424.00,13.20 L425.00,13.50 L425.96,13.86 L426.87,14.26 L427.80,14.74 L428.82,15.31 L430.00,16.00 L431.47,16.90 L433.19,17.99 L434.95,19.14 L436.55,20.19 L437.80,21.00 L438.47,21.43 L438.71,21.57 L438.83,21.64 L439.15,21.84 L440.00,22.40 L441.50,23.36 L443.44,24.59 L445.63,26.00 L447.88,27.49 L450.00,29.00 L452.00,30.54 L454.00,32.17 L456.00,33.86 L458.00,35.55 L460.00,37.20 L462.00,38.81 L464.00,40.41 L466.00,42.01 L468.00,43.60 L470.00,45.20 L472.00,46.80 L474.00,48.40 L476.00,49.99 L478.00,51.59 L480.00,53.20 L482.00,54.81 L484.00,56.43 L486.00,58.05 L488.00,59.67 L490.00,61.30 L492.00,62.94 L494.00,64.58 L496.00,66.23 L498.00,67.87 L500.00,69.50 L502.00,71.12 L504.00,72.73 L506.00,74.34 L508.00,75.93 L510.00,77.50 L512.00,79.05 L514.00,80.59 L516.00,82.11 L518.00,83.61 L520.00,85.10 L522.00,86.57 L524.00,88.01 L526.00,89.44 L528.00,90.87 L530.00,92.30 L532.00,93.75 L534.00,95.22 L536.00,96.68 L538.00,98.12 L540.00,99.50 L542.00,100.83 L544.00,102.11 L546.00,103.36 L548.00,104.59 L550.00,105.80 L552.00,107.00 L554.00,108.18 L556.00,109.34 L558.00,110.48 L560.00,111.60 L562.00,112.69 L564.00,113.74 L566.00,114.78 L568.00,115.82 L570.00,116.90 L572.00,118.02 L574.00,119.17 L576.00,120.32 L578.00,121.47 L580.00,122.60 L582.00,123.72 L584.00,124.83 L586.00,125.93 L588.00,126.99 L590.00,128.00 L592.00,128.95 L594.00,129.84 L596.00,130.70 L598.00,131.54 L600.00,132.40 L602.00,133.26 L604.00,134.11 L606.00,134.96 L608.00,135.82 L610.00,136.70 L612.00,137.63 L614.00,138.59 L616.00,139.56 L618.00,140.50 L620.00,141.40 L622.00,142.24 L624.00,143.04 L626.00,143.81 L628.00,144.56 L630.00,145.30 L632.00,146.03 L634.00,146.75 L636.00,147.45 L638.00,148.13 L640.00,148.80 L642.00,149.45 L644.00,150.09 L646.00,150.71 L648.00,151.31 L650.00,151.90 L652.03,152.48 L654.10,153.04 L656.15,153.58 L658.13,154.10 L660.00,154.60 L661.84,155.09 L663.69,155.58 L665.41,156.04 L666.86,156.42 L667.90,156.70" fill="none" stroke="#7b3294" stroke-width="1.65" stroke-dasharray="4.6 2.4" stroke-linejoin="round"/>
</g>
<!-- legend line types -->
<rect x="579.7" y="6.1" width="98.8" height="56.2" rx="2.5" fill="#fff" fill-opacity="0.8" stroke="#d6d6d6" stroke-width="0.9"/>
<text x="604.2" y="18.2" font-size="11.9">Line types</text>
<g font-size="8.9">
<text x="608.1" y="31.3">Experimental</text>
<text x="608.1" y="43.9">Reference model</text>
<text x="608.1" y="56.6">Data-driven model</text>
</g>
<line x1="582.5" x2="601.3" y1="28.0" y2="28.0" stroke="#2a2a2a" stroke-width="1.6"/>
<line x1="582.5" x2="600.5" y1="41.0" y2="41.0" stroke="#2a2a2a" stroke-width="1.4" stroke-dasharray="1.2 1.65"/>
<line x1="582.5" x2="601.3" y1="53.6" y2="53.6" stroke="#2a2a2a" stroke-width="1.6" stroke-dasharray="4.2 1.5"/>
<!-- legend samples -->
<rect x="396.5" y="143" width="123.2" height="45.2" rx="2.5" fill="#fff" fill-opacity="0.8" stroke="#d6d6d6" stroke-width="0.9"/>
<line x1="400.2" x2="421.0" y1="150.5" y2="150.5" stroke="#262626" stroke-width="1.9"/>
<line x1="400.2" x2="421.0" y1="164.7" y2="164.7" stroke="#efd24a" stroke-width="1.9"/>
<line x1="400.2" x2="421.0" y1="178.9" y2="178.9" stroke="#8a4aaa" stroke-width="1.9"/>
<g font-size="9.9">
<text x="429.1" y="153.8">TMD22 /100kPa/0.85</text>
<text x="429.1" y="168.0">TMD23/200kPa/0.92</text>
<text x="429.1" y="182.2">TMD25/400kPa/0.89</text>
</g>
</svg>
</body></html>
